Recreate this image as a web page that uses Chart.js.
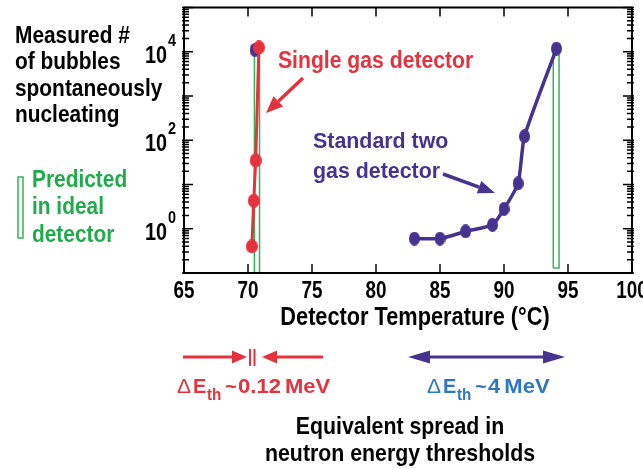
<!DOCTYPE html>
<html>
<head>
<meta charset="utf-8">
<script src="https://cdn.jsdelivr.net/npm/chart.js@4/dist/chart.umd.min.js"></script>
<style>
  html, body { margin: 0; padding: 0; background: #fff; }
  #wrap { width: 643px; height: 469px; }
</style>
</head>
<body>
<div id="wrap"><canvas id="c" width="643" height="469"></canvas></div>
<script>
// data
const singleTemp = [70.3, 70.45, 70.6, 70.85];
const singleCounts = [0.4, 4.3, 35, 12500];
const twoGasTemp = [83.0, 85.0, 87.0, 89.1, 90.0, 91.1, 91.6, 94.1];
const twoGasCounts = [0.6, 0.6, 0.87, 1.23, 2.8, 10.6, 123, 11800];
const extraTemp = [70.55];
const extraCounts = [11000];
const predTempLo = [70.5, 93.85];
const predTempHi = [70.9, 94.3];
const predLo = [0.1, 0.13];
const predHi = [10000, 10000];
const xTicks = [65, 70, 75, 80, 85, 90, 95, 100];
const yLabelExp = [0, 2, 4];

const RED = '#e5323e';
const PURPLE = '#46338f';
const GREEN = '#34b457';
const GREEN_TXT = '#1fab4c';
const BLUE_TXT = '#2f77c1';
const FONT = '"Liberation Sans", Arial, sans-serif';

function dot(w, h, color) {
  const cv = document.createElement('canvas');
  cv.width = w; cv.height = h;
  const g = cv.getContext('2d');
  g.fillStyle = color;
  g.beginPath();
  g.ellipse(w / 2, h / 2, w / 2, h / 2, 0, 0, Math.PI * 2);
  g.fill();
  return cv;
}

function toPts(xs, ys) {
  return xs.map((x, i) => ({ x: x, y: ys[i] }));
}

function rectPts(i) {
  return [
    { x: predTempLo[i], y: predLo[i] },
    { x: predTempLo[i], y: predHi[i] },
    { x: predTempHi[i], y: predHi[i] },
    { x: predTempHi[i], y: predLo[i] },
    { x: predTempLo[i], y: predLo[i] }
  ];
}

function txt(ctx, s, x, y, size, color, align, sx, weight) {
  align = align || 'left';
  sx = sx || 0.87;
  weight = weight || 'bold';
  ctx.save();
  ctx.font = weight + ' ' + size + 'px ' + FONT;
  ctx.fillStyle = color;
  ctx.textBaseline = 'alphabetic';
  ctx.textAlign = 'left';
  const w = ctx.measureText(s).width * sx;
  let x0 = x;
  if (align === 'center') x0 = x - w / 2;
  if (align === 'right') x0 = x - w;
  ctx.translate(x0, y);
  ctx.scale(sx, 1);
  ctx.fillText(s, 0, 0);
  ctx.restore();
  return w;
}

function arrowHead(ctx, x1, y1, x2, y2, len, hw) {
  const a = Math.atan2(y2 - y1, x2 - x1);
  const bx = x2 - len * Math.cos(a), by = y2 - len * Math.sin(a);
  ctx.beginPath();
  ctx.moveTo(x2, y2);
  ctx.lineTo(bx + hw * Math.sin(a), by - hw * Math.cos(a));
  ctx.lineTo(bx - hw * Math.sin(a), by + hw * Math.cos(a));
  ctx.closePath();
  ctx.fill();
  return [bx, by];
}

function arrow(ctx, x1, y1, x2, y2, color, lw, len, hw) {
  ctx.save();
  ctx.strokeStyle = color; ctx.fillStyle = color; ctx.lineWidth = lw;
  const b = arrowHead(ctx, x1, y1, x2, y2, len, hw);
  ctx.beginPath();
  ctx.moveTo(x1, y1);
  ctx.lineTo(b[0], b[1]);
  ctx.stroke();
  ctx.restore();
}

function deltaLabel(ctx, x, y, num, color) {
  txt(ctx, '\u0394', x, y, 21, color, 'left', 1, 'normal');
  txt(ctx, 'E', x + 16, y, 21, color, 'left', 0.95);
  txt(ctx, 'th', x + 30, y + 7, 16, color, 'left', 0.95);
  txt(ctx, '~', x + 48, y, 20, color, 'left', 1);
  const w = txt(ctx, num, x + 61, y, 21, color, 'left', 1.05);
  txt(ctx, 'MeV', x + 61 + w + 4, y, 21, color, 'left', 1.05);
}

const decor = {
  id: 'decor',
  afterDraw(chart) {
    const ctx = chart.ctx;
    const a = chart.chartArea;
    const xs = chart.scales.x, ys = chart.scales.y;
    ctx.save();
    ctx.strokeStyle = '#000';
    ctx.lineWidth = 2;
    ctx.strokeRect(a.left, a.top, a.right - a.left, a.bottom - a.top);

    // x ticks top and bottom
    ctx.lineWidth = 1.5;
    xTicks.forEach(v => {
      const px = xs.getPixelForValue(v);
      ctx.beginPath();
      ctx.moveTo(px, a.bottom); ctx.lineTo(px, a.bottom - 9);
      ctx.moveTo(px, a.top); ctx.lineTo(px, a.top + 9);
      ctx.stroke();
      txt(ctx, String(v), px, 298, 23, '#000', 'center', 0.82);
    });

    // y ticks, log decades with minors
    for (let e = -1; e <= 5; e++) {
      for (let m = 1; m <= 9; m++) {
        const v = m * Math.pow(10, e);
        if (v < ys.min || v > ys.max) continue;
        const py = ys.getPixelForValue(v);
        const len = m === 1 ? 9 : 5;
        ctx.beginPath();
        ctx.moveTo(a.left - 2, py); ctx.lineTo(a.left + len, py);
        ctx.moveTo(a.right + 2, py); ctx.lineTo(a.right - len, py);
        ctx.stroke();
      }
    }
    yLabelExp.forEach(e => {
      const py = ys.getPixelForValue(Math.pow(10, e));
      const w = txt(ctx, '10', 145, py + 11, 23, '#000', 'left', 0.86);
      txt(ctx, String(e), 145 + w + 1, py - 6, 16, '#000', 'left', 0.9);
    });

    // axis title
    txt(ctx, 'Detector Temperature (\u00b0C)', 415, 325, 25, '#000', 'center', 0.87);

    // left y title
    ['Measured #', 'of bubbles', 'spontaneously', 'nucleating'].forEach((s, i) => {
      txt(ctx, s, 15, 43 + i * 26.3, 24, '#000', 'left', 0.87);
    });

    // predicted legend
    ctx.strokeStyle = GREEN;
    ctx.lineWidth = 1.5;
    ctx.strokeRect(18, 177, 5, 61);
    ['Predicted', 'in ideal', 'detector'].forEach((s, i) => {
      txt(ctx, s, 32, 187 + i * 27.3, 24, GREEN_TXT, 'left', 0.87);
    });

    // series annotations
    txt(ctx, 'Single gas detector', 278, 68, 23, RED, 'left', 0.92);
    arrow(ctx, 303, 78, 266, 113, RED, 3.5, 17, 7);
    txt(ctx, 'Standard two', 313, 148, 22.5, PURPLE, 'left', 0.95);
    txt(ctx, 'gas detector', 313, 178, 22.5, PURPLE, 'left', 0.95);
    arrow(ctx, 443, 174, 495, 193, PURPLE, 3.5, 17, 6.5);

    // threshold spread arrows
    arrow(ctx, 183, 357, 247, 357, RED, 3, 15, 6.5);
    arrow(ctx, 323, 357, 262, 357, RED, 3, 15, 6.5);
    ctx.strokeStyle = RED;
    ctx.lineWidth = 2;
    ctx.beginPath();
    ctx.moveTo(250, 349); ctx.lineTo(250, 366);
    ctx.moveTo(254.5, 349); ctx.lineTo(254.5, 366);
    ctx.stroke();
    deltaLabel(ctx, 177, 393, '0.12', RED);

    arrow(ctx, 486, 357, 408, 357, PURPLE, 3, 22, 6.5);
    arrow(ctx, 486, 357, 565, 357, PURPLE, 3, 22, 6.5);
    deltaLabel(ctx, 427, 393, '4', BLUE_TXT);

    txt(ctx, 'Equivalent spread in', 400, 434, 24.5, '#000', 'center', 0.87);
    txt(ctx, 'neutron energy thresholds', 400, 461, 24.5, '#000', 'center', 0.87);
    ctx.restore();
  }
};

new Chart(document.getElementById('c'), {
  type: 'line',
  data: {
    datasets: [
      {
        label: 'Single gas detector',
        data: toPts(singleTemp, singleCounts),
        borderColor: RED,
        borderWidth: 3,
        pointStyle: dot(12, 14, RED),
        tension: 0
      },
      {
        label: 'two gas at 71',
        data: toPts(extraTemp, extraCounts),
        showLine: false,
        pointStyle: dot(11, 14, PURPLE)
      },
      {
        label: 'Standard two gas detector',
        data: toPts(twoGasTemp, twoGasCounts),
        borderColor: PURPLE,
        borderWidth: 3.5,
        pointStyle: dot(11, 14, PURPLE),
        tension: 0.2
      },
      {
        label: 'Predicted 1',
        data: rectPts(0),
        borderColor: GREEN,
        borderWidth: 1.5,
        pointRadius: 0,
        tension: 0
      },
      {
        label: 'Predicted 2',
        data: rectPts(1),
        borderColor: GREEN,
        borderWidth: 1.5,
        pointRadius: 0,
        tension: 0
      }
    ]
  },
  options: {
    responsive: false,
    animation: false,
    layout: { padding: { left: 184, right: 11, top: 5, bottom: 196 } },
    plugins: { legend: { display: false }, tooltip: { enabled: false } },
    scales: {
      x: { type: 'linear', min: 65, max: 100, display: false },
      y: { type: 'logarithmic', min: 0.1, max: 100000, display: false }
    }
  },
  plugins: [decor]
});
</script>
</body>
</html>
